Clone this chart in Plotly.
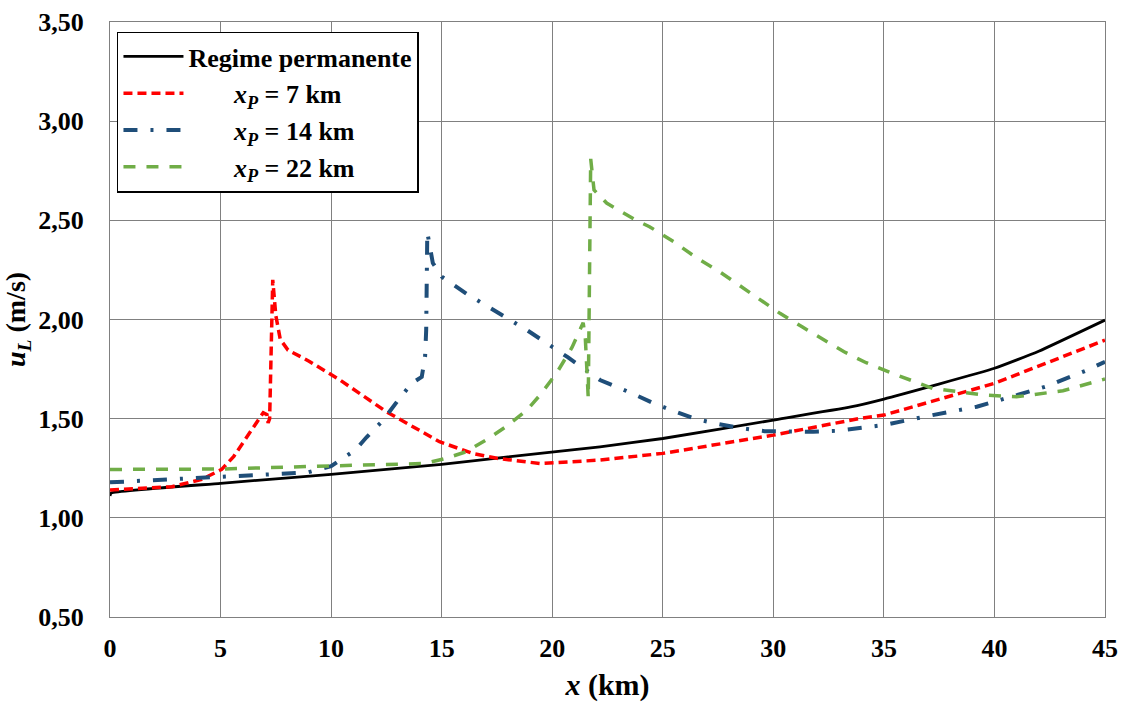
import plotly.graph_objects as go

# Regime permanente
x_perm = [0, 0.05, 5, 10, 15, 19.45, 22.16, 25, 30, 33.5, 35, 40, 42, 45]
u_perm = [1.11, 1.125, 1.174, 1.219, 1.27, 1.325, 1.358, 1.40, 1.493, 1.559, 1.599, 1.754, 1.84, 1.997]

# x_P = 7 km
x_p7 = [0, 2.8, 4.15, 5.05, 5.6, 6.1, 6.6, 6.93, 7.1, 7.15, 7.22, 7.36, 7.5, 7.7, 8.05, 9.0, 10.4, 12.5,
        14.9, 16.4, 17.5, 19.45, 22.16, 25, 30, 33.9, 35, 40, 45]
u_p7 = [1.14, 1.157, 1.194, 1.244, 1.31, 1.392, 1.48, 1.53, 1.52, 1.478, 1.50, 2.20, 2.02, 1.90, 1.846, 1.79, 1.695,
        1.535, 1.384, 1.325, 1.30, 1.274, 1.291, 1.325, 1.417, 1.501, 1.518, 1.678, 1.896]

# x_P = 14 km
x_p14 = [0, 4.3, 6.9, 8.95, 10.0, 10.55, 11.1, 11.6, 12.36, 13.0, 13.64, 14.1, 14.25, 14.3, 14.35, 14.6, 15.0,
         16.15, 18.85, 20.7, 22.16, 23.5, 24.6, 25.5, 26.5, 27.5, 28.6, 29.6, 30.6, 31.8, 32.9, 33.9, 35,
         37.2, 39.2, 40.25, 42.3, 44.2, 45]
u_p14 = [1.179, 1.204, 1.216, 1.229, 1.261, 1.30, 1.342, 1.406, 1.493, 1.589, 1.678, 1.711, 1.812, 1.947, 2.44, 2.285, 2.216,
         2.128, 1.947, 1.81, 1.695, 1.633, 1.577, 1.538, 1.498, 1.473, 1.451, 1.437, 1.434, 1.434, 1.439, 1.451, 1.468,
         1.518, 1.56, 1.594, 1.661, 1.745, 1.787]

# x_P = 22 km
x_p22 = [0, 5.05, 10.0, 14.2, 15.2, 16.1, 17.0, 17.9, 18.85, 19.45, 20.2, 20.9, 21.4, 21.5, 21.63, 21.68, 21.74,
         21.89, 22.46, 23.8, 24.4, 25.5, 26.5, 27.5, 28.5, 29.4, 30.3, 31.3, 32.3, 33.2, 34.2, 35.3, 37.2,
         39.5, 41, 43.1, 44.55, 45]
u_p22 = [1.244, 1.246, 1.262, 1.274, 1.30, 1.333, 1.392, 1.459, 1.543, 1.619, 1.73, 1.86, 1.984, 1.90, 1.603, 2.20, 2.81,
         2.653, 2.587, 2.50, 2.468, 2.392, 2.313, 2.246, 2.169, 2.10, 2.031, 1.963, 1.896, 1.837, 1.782, 1.732, 1.653,
         1.619, 1.61, 1.641, 1.686, 1.70]

pad = "&#160;" * 7
names = ["Regime permanente",
         pad + "<i>x<sub>P</sub></i> = 7 km",
         pad + "<i>x<sub>P</sub></i> = 14 km",
         pad + "<i>x<sub>P</sub></i> = 22 km"]

fig = go.Figure()
fig.add_trace(go.Scatter(x=x_perm, y=u_perm, mode="lines", name="<b>" + names[0] + "</b>",
                         line=dict(color="black", width=2.8, shape="spline", smoothing=0.4)))
fig.add_trace(go.Scatter(x=x_p7, y=u_p7, mode="lines", name="<b>" + names[1] + "</b>",
                         line=dict(color="#FF0000", width=3.5, dash="9px,5px")))
fig.add_trace(go.Scatter(x=x_p14, y=u_p14, mode="lines", name="<b>" + names[2] + "</b>",
                         line=dict(color="#1F4E79", width=4, dash="14px,13px,3px,13px")))
fig.add_trace(go.Scatter(x=x_p22, y=u_p22, mode="lines", name="<b>" + names[3] + "</b>",
                         line=dict(color="#70AD47", width=3.5, dash="12px,11px")))

font_main = "Liberation Serif, Times New Roman, serif"
fig.update_layout(
    width=1123, height=702,
    margin=dict(l=110, r=18, t=22, b=85),
    paper_bgcolor="white", plot_bgcolor="white",
    separators=",.",
    font=dict(family=font_main, size=24, color="black"),
    showlegend=True,
    legend=dict(x=0.007, y=0.984, xanchor="left", yanchor="top",
                bgcolor="white", bordercolor="black", borderwidth=1.5,
                font=dict(family=font_main, size=26, color="black"),
                tracegroupgap=8, itemwidth=60),
    xaxis=dict(range=[0, 45], dtick=5, tick0=0, showgrid=True, gridcolor="#808080", gridwidth=1,
               showline=True, linecolor="#808080", mirror=True, zeroline=False, automargin=False,
               ticks="", ticklabelstandoff=8, tickfont=dict(family=font_main, size=26, color="black"),
               tickprefix="<b>", ticksuffix="</b>",
               title=dict(text="<b><i>x</i> (km)</b>", font=dict(family=font_main, size=30), standoff=20)),
    yaxis=dict(range=[0.5, 3.5], dtick=0.5, tick0=0.5, tickformat=".2f", showgrid=True,
               gridcolor="#808080", gridwidth=1, showline=True, linecolor="#808080", mirror=True,
               zeroline=False, automargin=False, ticks="", ticklabelstandoff=20,
               tickfont=dict(family=font_main, size=26, color="black"),
               tickprefix="<b>", ticksuffix="</b>",
               title=dict(text="<b><i>u<sub>L</sub></i> (m/s)</b>", font=dict(family=font_main, size=28), standoff=12)),
)

fig.write_html("out.html")
